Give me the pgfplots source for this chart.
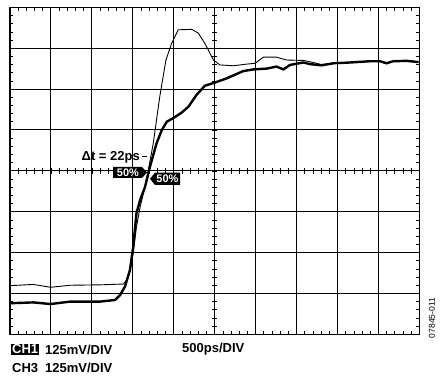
\documentclass[border=0pt]{standalone}
\usepackage{pgfplots}
\pgfplotsset{compat=1.18}
\usepackage{fontspec}
\setmainfont{Liberation Sans}
\begin{document}
\begin{tikzpicture}
\path (0pt,0pt) rectangle (444pt,379pt);
\begin{axis}[at={(10pt,44.7pt)}, anchor=south west, width=409.3pt, height=327pt, scale only axis,
  xmin=0,xmax=10,ymin=0,ymax=8, xtick={0,...,10}, ytick={0,...,8},
  xticklabels={}, yticklabels={}, grid=major,
  major grid style={black, line width=1pt},
  axis line style={line width=1.3pt},
  major tick length=0pt, minor x tick num=4, minor y tick num=4,
  minor tick length=3.5pt, minor tick style={black,line width=0.6pt},
  tick pos=both, clip=false]
\pgfplotsinvokeforeach{0,0.2,...,10}{\draw[line width=0.6pt] (axis cs:#1,3.93) -- (axis cs:#1,4.07);}
\pgfplotsinvokeforeach{0,0.2,...,8}{\draw[line width=0.6pt] (axis cs:4.94,#1) -- (axis cs:5.06,#1);}
% thin trace
\addplot[black, line width=0.9pt] coordinates {
(0,1.19) (0.57,1.22) (0.99,1.15) (1.47,1.20) (2.2,1.21) (2.77,1.23) (2.85,1.33) (2.93,1.57)
(3.01,1.98) (3.09,2.63) (3.18,3.12) (3.26,3.45) (3.38,4.02) (3.50,4.67) (3.66,5.82) (3.81,6.71)
(3.95,7.12) (4.11,7.45) (4.44,7.46) (4.60,7.37) (4.76,7.12) (4.97,6.71) (5.13,6.59) (5.46,6.57)
(5.78,6.61) (5.99,6.63) (6.19,6.78) (6.51,6.78) (6.76,6.71) (7.17,6.70) (7.41,6.65) (7.61,6.60)
(7.90,6.63) (8.31,6.65) (8.79,6.68) (9.04,6.68) (9.20,6.64) (9.36,6.68) (9.69,6.69) (10,6.66)};
% thick trace
\addplot[black, line width=2.4pt] coordinates {
(0,0.76) (0.57,0.78) (0.99,0.74) (1.47,0.80) (2.2,0.80) (2.57,0.84) (2.69,0.96) (2.81,1.17)
(2.93,1.57) (3.01,2.14) (3.09,2.96) (3.18,3.29) (3.30,3.61) (3.42,4.10) (3.58,4.67) (3.71,5.00)
(3.83,5.20) (3.99,5.29) (4.19,5.42) (4.36,5.57) (4.56,5.86) (4.76,6.08) (5.01,6.16) (5.29,6.26)
(5.70,6.44) (5.94,6.48) (6.27,6.50) (6.51,6.55) (6.68,6.48) (6.84,6.59) (7.17,6.65) (7.33,6.61)
(7.61,6.58) (7.90,6.63) (8.31,6.65) (8.79,6.68) (9.04,6.68) (9.20,6.63) (9.36,6.68) (9.69,6.69) (9.98,6.66)};
\end{axis}
% annotations
\node[anchor=east, font=\fontsize{13}{15}\selectfont\bfseries, inner sep=0pt] at (140pt,222pt) {Δt = 22ps};
\draw[line width=0.8pt] (142pt,222.5pt) -- (147pt,222.5pt);
\fill (113pt,212pt) -- (142pt,212pt) -- (147pt,206.5pt) -- (142pt,201pt) -- (113pt,201pt) -- cycle;
\node[text=white, font=\fontsize{11}{13}\selectfont\bfseries, inner sep=0pt] at (128pt,206.5pt) {50\%};
\fill (150pt,200.2pt) -- (155pt,206.3pt) -- (180pt,206.3pt) -- (180pt,194pt) -- (155pt,194pt) -- cycle;
\node[text=white, font=\fontsize{11}{13}\selectfont\bfseries, inner sep=0pt] at (167.5pt,200.2pt) {50\%};
% bottom labels
\node[fill=black, text=white, font=\fontsize{13}{15}\selectfont\bfseries, inner sep=1pt, anchor=west] at (11pt,29.5pt) {CH1};
\node[font=\fontsize{13}{15}\selectfont\bfseries, inner sep=0pt, anchor=west] at (45pt,29.5pt) {125mV/DIV};
\node[font=\fontsize{13}{15}\selectfont\bfseries, inner sep=0pt, anchor=west] at (182pt,29.5pt) {500ps/DIV};
\node[font=\fontsize{13}{15}\selectfont\bfseries, inner sep=0pt, anchor=west] at (12pt,11pt) {CH3};
\node[font=\fontsize{13}{15}\selectfont\bfseries, inner sep=0pt, anchor=west] at (45pt,11pt) {125mV/DIV};
\node[font=\fontsize{8.5}{10}\selectfont, inner sep=0pt, rotate=90] at (432pt,61pt) {07845-011};
\end{tikzpicture}
\end{document}
